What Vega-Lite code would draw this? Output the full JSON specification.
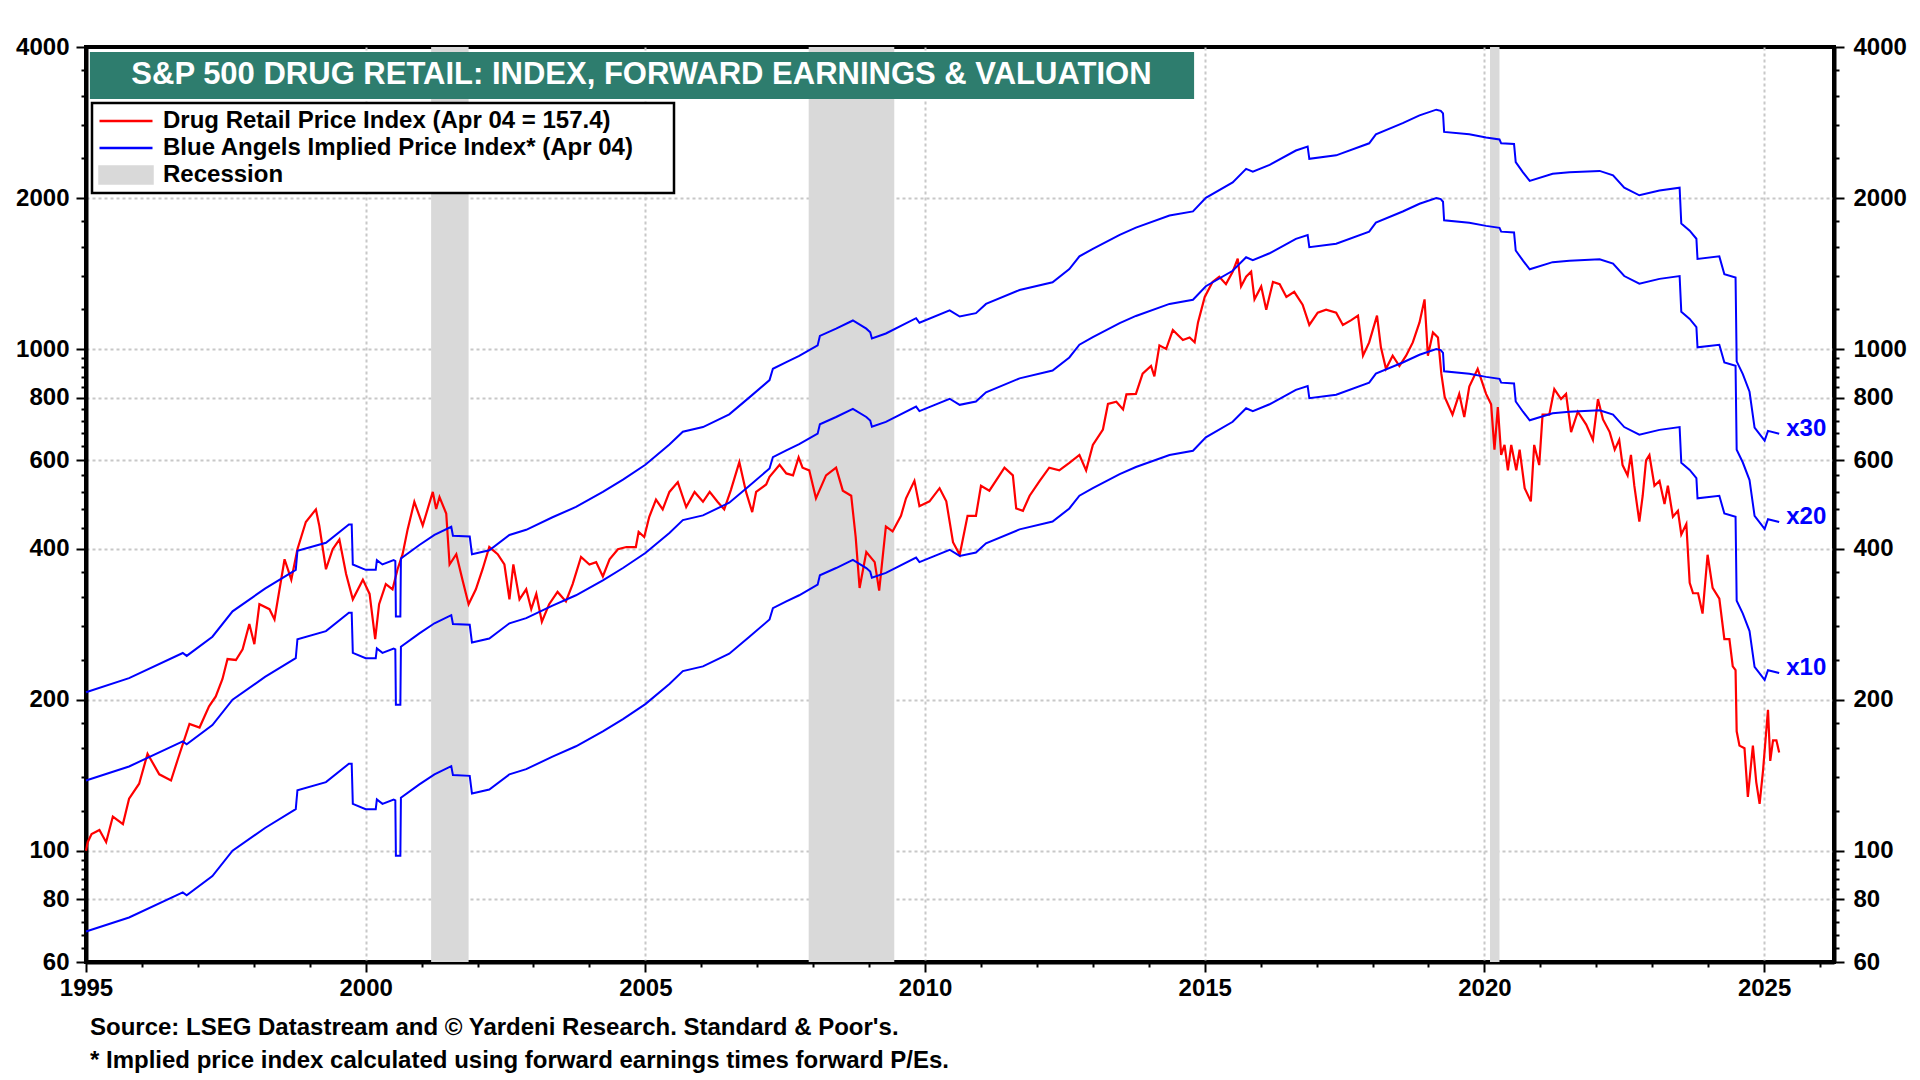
{
"$schema":"https://vega.github.io/schema/vega-lite/v6.json",
"width":1748,"height":915,
"autosize":{"type":"none"},
"padding":{"left":86,"top":47,"right":86,"bottom":118},
"background":"white",
"title":{"text":["Source: LSEG Datastream and © Yardeni Research. Standard & Poor's.","* Implied price index calculated using forward earnings times forward P/Es."],"orient":"bottom","anchor":"start","frame":"group","dx":4,"offset":16,"font":"Liberation Sans","fontSize":24,"fontWeight":"bold","color":"black","lineHeight":33},
"datasets":{
"rec":[{"s":2001.17,"e":2001.84},{"s":2007.92,"e":2009.45},{"s":2020.1,"e":2020.27}],
"red":[
{"t":1995.0,"v":100},{"t":1995.03,"v":104},{"t":1995.1,"v":108},{"t":1995.24,"v":110},{"t":1995.36,"v":104},{"t":1995.48,"v":117},{"t":1995.66,"v":113},{"t":1995.77,"v":127},{"t":1995.95,"v":136},{"t":1996.1,"v":156},{"t":1996.31,"v":142},{"t":1996.52,"v":138},{"t":1996.64,"v":152},{"t":1996.85,"v":179},{"t":1997.03,"v":176},{"t":1997.2,"v":194},{"t":1997.32,"v":203},{"t":1997.44,"v":220},{"t":1997.53,"v":241},{"t":1997.68,"v":240},{"t":1997.8,"v":252},{"t":1997.92,"v":283},{"t":1998.01,"v":258},{"t":1998.1,"v":310},{"t":1998.28,"v":303},{"t":1998.37,"v":289},{"t":1998.46,"v":332},{"t":1998.55,"v":381},{"t":1998.67,"v":347},{"t":1998.78,"v":399},{"t":1998.93,"v":452},{"t":1999.11,"v":479},{"t":1999.17,"v":445},{"t":1999.29,"v":364},{"t":1999.41,"v":399},{"t":1999.53,"v":417},{"t":1999.65,"v":356},{"t":1999.77,"v":317},{"t":1999.95,"v":347},{"t":2000.07,"v":325},{"t":2000.17,"v":264},{"t":2000.24,"v":310},{"t":2000.36,"v":340},{"t":2000.48,"v":332},{"t":2000.57,"v":364},{"t":2000.66,"v":390},{"t":2000.75,"v":437},{"t":2000.87,"v":496},{"t":2001.02,"v":445},{"t":2001.2,"v":519},{"t":2001.26,"v":480},{"t":2001.32,"v":507},{"t":2001.44,"v":470},{"t":2001.5,"v":372},{"t":2001.62,"v":390},{"t":2001.73,"v":347},{"t":2001.84,"v":310},{"t":2001.97,"v":332},{"t":2002.09,"v":364},{"t":2002.21,"v":403},{"t":2002.36,"v":390},{"t":2002.48,"v":372},{"t":2002.57,"v":317},{"t":2002.64,"v":372},{"t":2002.75,"v":317},{"t":2002.87,"v":332},{"t":2002.96,"v":303},{"t":2003.05,"v":325},{"t":2003.15,"v":286},{"t":2003.28,"v":310},{"t":2003.43,"v":328},{"t":2003.58,"v":314},{"t":2003.7,"v":340},{"t":2003.85,"v":385},{"t":2004.0,"v":372},{"t":2004.12,"v":376},{"t":2004.24,"v":352},{"t":2004.36,"v":381},{"t":2004.51,"v":399},{"t":2004.66,"v":403},{"t":2004.83,"v":403},{"t":2004.88,"v":432},{"t":2004.98,"v":422},{"t":2005.07,"v":463},{"t":2005.19,"v":501},{"t":2005.31,"v":479},{"t":2005.43,"v":519},{"t":2005.58,"v":543},{"t":2005.73,"v":484},{"t":2005.88,"v":519},{"t":2006.03,"v":496},{"t":2006.15,"v":519},{"t":2006.29,"v":496},{"t":2006.41,"v":479},{"t":2006.53,"v":524},{"t":2006.68,"v":595},{"t":2006.8,"v":519},{"t":2006.91,"v":473},{"t":2006.98,"v":519},{"t":2007.16,"v":537},{"t":2007.22,"v":556},{"t":2007.4,"v":588},{"t":2007.52,"v":565},{"t":2007.64,"v":560},{"t":2007.74,"v":608},{"t":2007.81,"v":580},{"t":2007.93,"v":573},{"t":2008.05,"v":504},{"t":2008.23,"v":560},{"t":2008.41,"v":580},{"t":2008.53,"v":522},{"t":2008.68,"v":510},{"t":2008.76,"v":422},{"t":2008.83,"v":334},{"t":2008.95,"v":394},{"t":2009.1,"v":376},{"t":2009.18,"v":330},{"t":2009.3,"v":443},{"t":2009.42,"v":433},{"t":2009.57,"v":465},{"t":2009.66,"v":504},{"t":2009.81,"v":546},{"t":2009.9,"v":486},{"t":2010.08,"v":497},{"t":2010.26,"v":528},{"t":2010.38,"v":497},{"t":2010.5,"v":412},{"t":2010.62,"v":389},{"t":2010.76,"v":465},{"t":2010.91,"v":465},{"t":2011.0,"v":534},{"t":2011.15,"v":522},{"t":2011.33,"v":560},{"t":2011.42,"v":580},{"t":2011.57,"v":560},{"t":2011.63,"v":481},{"t":2011.75,"v":476},{"t":2011.87,"v":510},{"t":2012.05,"v":546},{"t":2012.22,"v":580},{"t":2012.4,"v":573},{"t":2012.58,"v":593},{"t":2012.76,"v":615},{"t":2012.88,"v":573},{"t":2013.0,"v":644},{"t":2013.18,"v":691},{"t":2013.27,"v":777},{"t":2013.42,"v":785},{"t":2013.54,"v":758},{"t":2013.6,"v":812},{"t":2013.77,"v":814},{"t":2013.89,"v":893},{"t":2014.04,"v":925},{"t":2014.1,"v":882},{"t":2014.19,"v":1017},{"t":2014.31,"v":1000},{"t":2014.43,"v":1091},{"t":2014.61,"v":1042},{"t":2014.73,"v":1054},{"t":2014.82,"v":1031},{"t":2014.88,"v":1130},{"t":2015.0,"v":1270},{"t":2015.14,"v":1361},{"t":2015.26,"v":1394},{"t":2015.38,"v":1347},{"t":2015.5,"v":1426},{"t":2015.59,"v":1515},{"t":2015.65,"v":1333},{"t":2015.74,"v":1394},{"t":2015.83,"v":1426},{"t":2015.89,"v":1256},{"t":2016.01,"v":1333},{"t":2016.1,"v":1198},{"t":2016.22,"v":1361},{"t":2016.34,"v":1347},{"t":2016.46,"v":1270},{"t":2016.6,"v":1300},{"t":2016.75,"v":1226},{"t":2016.87,"v":1117},{"t":2017.02,"v":1182},{"t":2017.17,"v":1198},{"t":2017.35,"v":1182},{"t":2017.47,"v":1117},{"t":2017.62,"v":1142},{"t":2017.74,"v":1166},{"t":2017.83,"v":970},{"t":2017.94,"v":1031},{"t":2018.08,"v":1166},{"t":2018.15,"v":1008},{"t":2018.24,"v":913},{"t":2018.36,"v":970},{"t":2018.48,"v":925},{"t":2018.6,"v":970},{"t":2018.72,"v":1031},{"t":2018.84,"v":1130},{"t":2018.93,"v":1256},{"t":2018.99,"v":970},{"t":2019.08,"v":1079},{"t":2019.17,"v":1054},{"t":2019.23,"v":893},{"t":2019.29,"v":803},{"t":2019.43,"v":740},{"t":2019.55,"v":814},{"t":2019.64,"v":732},{"t":2019.73,"v":842},{"t":2019.88,"v":913},{"t":2020.03,"v":814},{"t":2020.12,"v":776},{"t":2020.18,"v":630},{"t":2020.24,"v":766},{"t":2020.3,"v":615},{"t":2020.36,"v":644},{"t":2020.42,"v":573},{"t":2020.48,"v":644},{"t":2020.57,"v":573},{"t":2020.63,"v":630},{"t":2020.72,"v":528},{"t":2020.83,"v":497},{"t":2020.89,"v":644},{"t":2020.98,"v":587},{"t":2021.04,"v":740},{"t":2021.16,"v":740},{"t":2021.25,"v":832},{"t":2021.37,"v":795},{"t":2021.46,"v":814},{"t":2021.55,"v":683},{"t":2021.67,"v":750},{"t":2021.82,"v":707},{"t":2021.94,"v":659},{"t":2022.03,"v":795},{"t":2022.12,"v":724},{"t":2022.24,"v":683},{"t":2022.33,"v":630},{"t":2022.41,"v":659},{"t":2022.47,"v":587},{"t":2022.56,"v":560},{"t":2022.62,"v":615},{"t":2022.68,"v":534},{"t":2022.77,"v":453},{"t":2022.83,"v":510},{"t":2022.89,"v":600},{"t":2022.95,"v":615},{"t":2023.04,"v":534},{"t":2023.13,"v":546},{"t":2023.22,"v":491},{"t":2023.28,"v":534},{"t":2023.37,"v":463},{"t":2023.46,"v":476},{"t":2023.52,"v":427},{"t":2023.61,"v":448},{"t":2023.67,"v":342},{"t":2023.73,"v":326},{"t":2023.82,"v":326},{"t":2023.9,"v":297},{"t":2023.99,"v":389},{"t":2024.08,"v":334},{"t":2024.2,"v":318},{"t":2024.29,"v":264},{"t":2024.38,"v":264},{"t":2024.44,"v":233},{"t":2024.49,"v":229},{"t":2024.51,"v":173},{"t":2024.56,"v":162},{"t":2024.65,"v":160},{"t":2024.71,"v":128},{"t":2024.8,"v":162},{"t":2024.86,"v":137},{"t":2024.92,"v":124},{"t":2024.98,"v":144},{"t":2025.07,"v":191},{"t":2025.11,"v":151},{"t":2025.16,"v":166},{"t":2025.22,"v":166},{"t":2025.27,"v":157}
],
"blue":[
{"t":1995.0,"x10":69,"x20":138,"x30":207},{"t":1995.77,"x10":73.6,"x20":147.2,"x30":220.8},{"t":1996.73,"x10":82.6,"x20":165.2,"x30":247.8},{"t":1996.8,"x10":81.5,"x20":163,"x30":244.5},{"t":1997.26,"x10":89,"x20":178,"x30":267},{"t":1997.62,"x10":100,"x20":200,"x30":300},{"t":1998.2,"x10":111,"x20":222,"x30":333},{"t":1998.75,"x10":121,"x20":242,"x30":363},{"t":1998.78,"x10":132,"x20":264,"x30":396},{"t":1999.29,"x10":137,"x20":274,"x30":411},{"t":1999.7,"x10":149,"x20":298,"x30":447},{"t":1999.75,"x10":149,"x20":298,"x30":447},{"t":1999.77,"x10":124,"x20":248,"x30":372},{"t":2000.0,"x10":121,"x20":242,"x30":363},{"t":2000.18,"x10":121,"x20":242,"x30":363},{"t":2000.2,"x10":126.5,"x20":253,"x30":379.5},{"t":2000.3,"x10":124,"x20":248,"x30":372},{"t":2000.5,"x10":126.5,"x20":253,"x30":379.5},{"t":2000.53,"x10":126,"x20":252,"x30":378},{"t":2000.54,"x10":97.7,"x20":195.4,"x30":293.1},{"t":2000.62,"x10":97.7,"x20":195.4,"x30":293.1},{"t":2000.63,"x10":127.5,"x20":255,"x30":382.5},{"t":2000.96,"x10":135.6,"x20":271.2,"x30":406.8},{"t":2001.23,"x10":142,"x20":284,"x30":426},{"t":2001.53,"x10":147.4,"x20":294.8,"x30":442.2},{"t":2001.56,"x10":141.5,"x20":283,"x30":424.5},{"t":2001.86,"x10":141,"x20":282,"x30":423},{"t":2001.9,"x10":130,"x20":260,"x30":390},{"t":2002.21,"x10":132.4,"x20":264.8,"x30":397.2},{"t":2002.57,"x10":142,"x20":284,"x30":426},{"t":2002.87,"x10":145.4,"x20":290.8,"x30":436.2},{"t":2003.34,"x10":154,"x20":308,"x30":462},{"t":2003.76,"x10":161.5,"x20":323,"x30":484.5},{"t":2004.24,"x10":173,"x20":346,"x30":519},{"t":2004.6,"x10":183,"x20":366,"x30":549},{"t":2005.0,"x10":196,"x20":392,"x30":588},{"t":2005.43,"x10":215,"x20":430,"x30":645},{"t":2005.67,"x10":228,"x20":456,"x30":684},{"t":2006.03,"x10":233,"x20":466,"x30":699},{"t":2006.5,"x10":247,"x20":494,"x30":741},{"t":2006.86,"x10":267,"x20":534,"x30":801},{"t":2007.22,"x10":289,"x20":578,"x30":867},{"t":2007.28,"x10":304.5,"x20":609,"x30":913.5},{"t":2007.52,"x10":314,"x20":628,"x30":942},{"t":2007.75,"x10":323,"x20":646,"x30":969},{"t":2008.08,"x10":339,"x20":678,"x30":1017},{"t":2008.12,"x10":354,"x20":708,"x30":1062},{"t":2008.41,"x10":366,"x20":732,"x30":1098},{"t":2008.71,"x10":380,"x20":760,"x30":1140},{"t":2008.95,"x10":366,"x20":732,"x30":1098},{"t":2009.02,"x10":360,"x20":720,"x30":1080},{"t":2009.05,"x10":350,"x20":700,"x30":1050},{"t":2009.3,"x10":358,"x20":716,"x30":1074},{"t":2009.84,"x10":384,"x20":768,"x30":1152},{"t":2009.9,"x10":376,"x20":752,"x30":1128},{"t":2010.44,"x10":398,"x20":796,"x30":1194},{"t":2010.62,"x10":387,"x20":774,"x30":1161},{"t":2010.91,"x10":393,"x20":786,"x30":1179},{"t":2011.09,"x10":410,"x20":820,"x30":1230},{"t":2011.69,"x10":437,"x20":874,"x30":1311},{"t":2012.28,"x10":453,"x20":906,"x30":1359},{"t":2012.58,"x10":481,"x20":962,"x30":1443},{"t":2012.76,"x10":510,"x20":1020,"x30":1530},{"t":2013.0,"x10":528,"x20":1056,"x30":1584},{"t":2013.48,"x10":563,"x20":1126,"x30":1689},{"t":2013.77,"x10":582,"x20":1164,"x30":1746},{"t":2014.37,"x10":615,"x20":1230,"x30":1845},{"t":2014.79,"x10":627,"x20":1254,"x30":1881},{"t":2015.02,"x10":667,"x20":1334,"x30":2001},{"t":2015.5,"x10":716,"x20":1432,"x30":2148},{"t":2015.74,"x10":762,"x20":1524,"x30":2286},{"t":2015.86,"x10":752,"x20":1504,"x30":2256},{"t":2016.16,"x10":776,"x20":1552,"x30":2328},{"t":2016.63,"x10":829,"x20":1658,"x30":2487},{"t":2016.84,"x10":844,"x20":1688,"x30":2532},{"t":2016.87,"x10":798,"x20":1596,"x30":2394},{"t":2017.35,"x10":811,"x20":1622,"x30":2433},{"t":2017.94,"x10":857,"x20":1714,"x30":2571},{"t":2018.06,"x10":893,"x20":1786,"x30":2679},{"t":2018.54,"x10":940,"x20":1880,"x30":2820},{"t":2018.84,"x10":974,"x20":1948,"x30":2922},{"t":2019.14,"x10":1000,"x20":2000,"x30":3000},{"t":2019.22,"x10":995,"x20":1990,"x30":2985},{"t":2019.26,"x10":983,"x20":1966,"x30":2949},{"t":2019.28,"x10":903,"x20":1806,"x30":2709},{"t":2019.73,"x10":893,"x20":1786,"x30":2679},{"t":2020.03,"x10":880,"x20":1760,"x30":2640},{"t":2020.27,"x10":872,"x20":1744,"x30":2616},{"t":2020.3,"x10":857,"x20":1714,"x30":2571},{"t":2020.53,"x10":854,"x20":1708,"x30":2562},{"t":2020.56,"x10":786,"x20":1572,"x30":2358},{"t":2020.69,"x10":750,"x20":1500,"x30":2250},{"t":2020.81,"x10":721,"x20":1442,"x30":2163},{"t":2021.22,"x10":745,"x20":1490,"x30":2235},{"t":2021.52,"x10":750,"x20":1500,"x30":2250},{"t":2022.06,"x10":755,"x20":1510,"x30":2265},{"t":2022.3,"x10":740,"x20":1480,"x30":2220},{"t":2022.5,"x10":699,"x20":1398,"x30":2097},{"t":2022.77,"x10":675,"x20":1350,"x30":2025},{"t":2023.13,"x10":690,"x20":1380,"x30":2070},{"t":2023.49,"x10":699,"x20":1398,"x30":2097},{"t":2023.52,"x10":593,"x20":1186,"x30":1779},{"t":2023.67,"x10":574,"x20":1148,"x30":1722},{"t":2023.79,"x10":553,"x20":1106,"x30":1659},{"t":2023.81,"x10":504,"x20":1008,"x30":1512},{"t":2024.2,"x10":510,"x20":1020,"x30":1530},{"t":2024.29,"x10":470,"x20":940,"x30":1410},{"t":2024.49,"x10":463,"x20":926,"x30":1389},{"t":2024.51,"x10":315,"x20":630,"x30":945},{"t":2024.62,"x10":297,"x20":594,"x30":891},{"t":2024.74,"x10":274,"x20":548,"x30":822},{"t":2024.83,"x10":232.5,"x20":465,"x30":697.5},{"t":2025.01,"x10":219,"x20":438,"x30":657},{"t":2025.07,"x10":229,"x20":458,"x30":687},{"t":2025.27,"x10":226,"x20":452,"x30":678}
]
},
"layer":[
{"layer":[
{"data":{"name":"rec"},"mark":{"type":"rect"},
"encoding":{
"x":{"field":"s","type":"quantitative","scale":{"domain":[1995,2026.25],"nice":false,"zero":false},
"axis":{"values":[1995,1996,1997,1998,1999,2000,2001,2002,2003,2004,2005,2006,2007,2008,2009,2010,2011,2012,2013,2014,2015,2016,2017,2018,2019,2020,2021,2022,2023,2024,2025,2026],"format":"d","labelExpr":"datum.value % 5 == 0 ? datum.label : ''","tickSize":{"condition":{"test":"datum.value % 5 == 0","value":10},"value":5},"grid":true,"gridOpacity":{"condition":{"test":"datum.value % 5 == 0 && datum.value > 1995","value":1},"value":0},"labelPadding":4}},
"x2":{"field":"e"},
"color":{"datum":"Recession","scale":{"domain":["Drug Retail Price Index (Apr 04 = 157.4)","Blue Angels Implied Price Index* (Apr 04)","Recession"],"range":["#ff0000","#0000ff","#d9d9d9"]},
"legend":{"orient":"none","legendX":6,"legendY":56,"title":null,"padding":6,"fillColor":"white","strokeColor":"black","labelFont":"Liberation Sans","labelFontSize":24,"labelFontWeight":"bold","labelColor":"black","labelLimit":2000,"labelOffset":9,"symbolSize":2809,"clipHeight":24,"rowPadding":3,"labelExpr":"datum.label + '\u00a0\u00a0\u00a0\u00a0\u00a0\u200b'",
"encode":{"legend":{"update":{"strokeWidth":{"value":2.5}}},"symbols":{"update":{"shape":{"signal":"datum.index == 2 ? 'M-1,-0.32H1V0.32H-1Z' : 'stroke'"},"fill":{"signal":"datum.index == 2 ? '#d9d9d9' : 'transparent'"},"stroke":{"signal":"datum.index == 0 ? '#ff0000' : datum.index == 1 ? '#0000ff' : 'transparent'"},"strokeWidth":{"value":2.5},"opacity":{"value":1}}}}}}}},
{"data":{"name":"red"},"mark":{"type":"line","strokeWidth":2.2},
"encoding":{"x":{"field":"t","type":"quantitative"},
"y":{"field":"v","type":"quantitative","scale":{"type":"log","domain":[60,4000],"nice":false},
"axis":{"orient":"left","values":[60,64,68,72,76,80,84,88,92,96,100,120,140,160,180,200,240,280,320,360,400,440,480,520,560,600,640,680,720,760,800,840,880,920,960,1000,1200,1400,1600,1800,2000,2400,2800,3200,3600,4000],"format":"d","labelExpr":"indexof([60,80,100,200,400,600,800,1000,2000,4000], datum.value) >= 0 ? datum.label : ''","tickSize":{"condition":{"test":"indexof([60,80,100,200,400,600,800,1000,2000,4000], datum.value) >= 0","value":10},"value":5},"grid":true,"gridOpacity":{"condition":{"test":"indexof([80,100,200,400,600,800,1000,2000], datum.value) >= 0","value":1},"value":0},"labelPadding":7}},
"color":{"datum":"Drug Retail Price Index (Apr 04 = 157.4)"}}},
{"data":{"name":"blue"},"transform":[{"fold":["x10","x20","x30"],"as":["mult","v"]}],"mark":{"type":"line","strokeWidth":2},
"encoding":{"x":{"field":"t","type":"quantitative"},"y":{"field":"v","type":"quantitative"},"color":{"datum":"Blue Angels Implied Price Index* (Apr 04)"},"detail":{"field":"mult"}}},
{"data":{"values":[{"box":"title"}]},"mark":{"type":"rect","color":"#2e7d6e"},
"encoding":{"x":{"datum":1995.07},"x2":{"datum":2014.81},"y":{"datum":3909},"y2":{"datum":3151}}},
{"data":{"values":[{"title":"S&P 500 DRUG RETAIL: INDEX, FORWARD EARNINGS & VALUATION"}]},"mark":{"type":"text","color":"white","font":"Liberation Sans","fontSize":31,"fontWeight":"bold","align":"center","baseline":"middle"},
"encoding":{"x":{"datum":2004.93},"y":{"datum":3518},"text":{"field":"title"}}}
]},
{"data":{"name":"blue"},"transform":[{"fold":["x10","x20","x30"],"as":["mult","v"]},{"joinaggregate":[{"op":"max","field":"t","as":"tmax"}],"groupby":["mult"]},{"filter":"datum.t == datum.tmax"}],
"mark":{"type":"text","color":"#0000ff","font":"Liberation Sans","fontSize":24,"fontWeight":"bold","align":"left","baseline":"middle","dx":7,"dy":-5},
"encoding":{"x":{"field":"t","type":"quantitative"},
"y":{"field":"v","type":"quantitative","scale":{"type":"log","domain":[60,4000],"nice":false},
"axis":{"orient":"right","values":[60,64,68,72,76,80,84,88,92,96,100,120,140,160,180,200,240,280,320,360,400,440,480,520,560,600,640,680,720,760,800,840,880,920,960,1000,1200,1400,1600,1800,2000,2400,2800,3200,3600,4000],"format":"d","labelExpr":"indexof([60,80,100,200,400,600,800,1000,2000,4000], datum.value) >= 0 ? datum.label : ''","tickSize":{"condition":{"test":"indexof([60,80,100,200,400,600,800,1000,2000,4000], datum.value) >= 0","value":10},"value":5},"grid":false,"labelPadding":9}},
"text":{"field":"mult"}}}
],
"resolve":{"scale":{"y":"independent"},"axis":{"y":"independent"}},
"config":{
"font":"Liberation Sans",
"view":{"stroke":"black","strokeWidth":4},
"axis":{"title":null,"domainColor":"black","domainWidth":4,"tickColor":"black","tickWidth":2,"labelFont":"Liberation Sans","labelFontSize":24,"labelFontWeight":"bold","labelColor":"black","gridColor":"#c8c8c8","gridDash":[3,3],"gridWidth":2,"labelFlush":false,"labelOverlap":false}
}
}
